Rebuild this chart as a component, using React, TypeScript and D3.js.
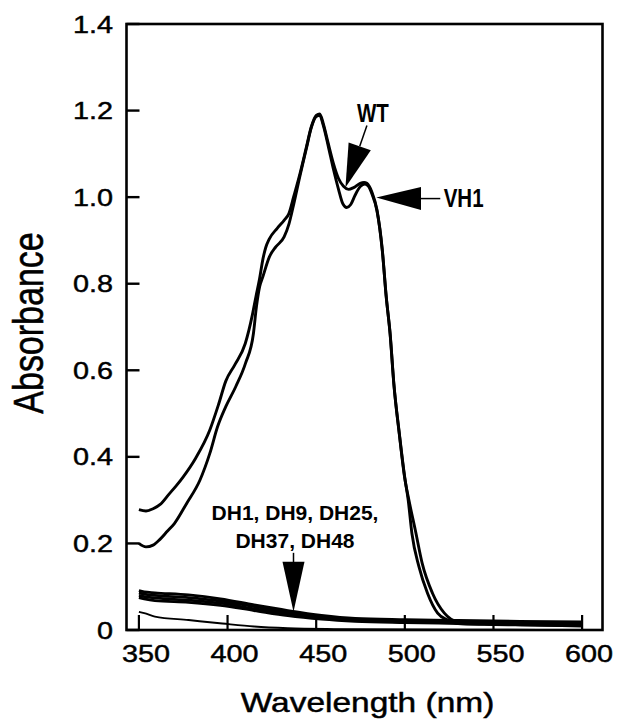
import React from "react";
import * as d3 from "d3";

// ---------- data ----------
const xTicks = [350, 400, 450, 500, 550, 600];
const yTicks = [0, 0.2, 0.4, 0.6, 0.8, 1.0, 1.2, 1.4];
const yTickLabels = ["0", "0.2", "0.4", "0.6", "0.8", "1.0", "1.2", "1.4"];

const wtWavelength = [350, 354, 358, 362, 367, 371, 375, 382, 390, 395, 399, 404, 410, 414, 416, 418, 420, 421.5, 423.5, 428, 432, 434.6, 437.3, 440.9, 444.5, 447.2, 450, 452, 454, 456.8, 459.7, 462.6, 465.4, 468.3, 471.1, 474.8, 477, 478.6, 481.4, 484.3, 487.3, 489.5, 491.7, 493.8, 496.9, 499.9, 501.9, 504, 508, 512.8, 518.5, 524.2, 530, 545, 565, 585, 600];
const wtAbsorbance = [0.278, 0.275, 0.28, 0.29, 0.314, 0.333, 0.354, 0.397, 0.462, 0.522, 0.575, 0.612, 0.662, 0.728, 0.77, 0.81, 0.858, 0.883, 0.903, 0.928, 0.947, 0.962, 1.001, 1.055, 1.116, 1.162, 1.189, 1.192, 1.17, 1.124, 1.078, 1.043, 1.025, 1.018, 1.022, 1.032, 1.034, 1.032, 1.012, 0.97, 0.878, 0.77, 0.685, 0.57, 0.454, 0.354, 0.3, 0.223, 0.146, 0.085, 0.039, 0.023, 0.015, 0.013, 0.012, 0.011, 0.01];

const vh1Wavelength = [350, 354, 358, 362, 366, 370, 377, 384.4, 390, 394.4, 399, 404.6, 410.1, 414.6, 416.3, 418.1, 419.9, 423.6, 427.2, 431.9, 434.7, 437.4, 441, 444.5, 447.2, 450, 452, 454, 456.8, 459.7, 462.6, 465, 467.2, 469.5, 472, 475, 477.5, 479.5, 481.4, 484.3, 487.3, 489.5, 491.7, 493.8, 496.9, 499.9, 502.3, 505.9, 509.8, 515.6, 522.3, 530, 545, 565, 585, 600];
const vh1Absorbance = [0.2, 0.192, 0.196, 0.21, 0.228, 0.246, 0.293, 0.346, 0.408, 0.47, 0.516, 0.562, 0.616, 0.685, 0.747, 0.793, 0.816, 0.862, 0.885, 0.908, 0.939, 0.985, 1.052, 1.113, 1.16, 1.186, 1.189, 1.166, 1.118, 1.065, 1.018, 0.985, 0.976, 0.983, 1.005, 1.025, 1.03, 1.025, 1.008, 0.968, 0.876, 0.77, 0.683, 0.568, 0.452, 0.352, 0.3, 0.231, 0.154, 0.085, 0.039, 0.019, 0.015, 0.013, 0.012, 0.011];

const dhWavelength = [350, 353, 359, 378, 396, 415, 434, 453, 472, 500, 530, 565, 600];
const dh1Absorbance = [0.091, 0.088, 0.086, 0.081, 0.072, 0.058, 0.045, 0.034, 0.027, 0.024, 0.022, 0.02, 0.019];
const dh9Absorbance = [0.086, 0.083, 0.08, 0.075, 0.067, 0.054, 0.041, 0.031, 0.024, 0.021, 0.019, 0.017, 0.015];
const dh25Absorbance = [0.08, 0.077, 0.074, 0.069, 0.062, 0.049, 0.037, 0.028, 0.022, 0.019, 0.017, 0.014, 0.012];
const dh37Absorbance = [0.075, 0.072, 0.068, 0.064, 0.057, 0.045, 0.033, 0.025, 0.02, 0.017, 0.015, 0.012, 0.009];
const dh48Wavelength = [350, 353, 359, 378, 397, 415, 434, 460, 500, 550, 600];
const dh48Absorbance = [0.042, 0.039, 0.031, 0.023, 0.015, 0.008, 0.004, 0.002, 0.001, 0.0005, 0];

const wtArrowTip = [466.5, 1.022];
const vh1ArrowTip = [483.9, 0.999];
const dhArrowTip = [437.2, 0.042];

// ---------- layout ----------
const W = 627;
const H = 728;
const LEFT = 126.5;
const RIGHT = 602.5;
const TOP = 24;
const BOTTOM = 630;
const FONT = "'Liberation Sans', Arial, Helvetica, sans-serif";

export default function App() {
  const x = d3.scaleLinear().domain([343, 611.5]).range([LEFT, RIGHT]);
  const y = d3.scaleLinear().domain([0, 1.4]).range([BOTTOM, TOP]);

  const line = d3
    .line<[number, number]>()
    .x((d) => x(d[0]))
    .y((d) => y(d[1]))
    .curve(d3.curveMonotoneX);

  const zip = (a: number[], b: number[]) => a.map((v, i) => [v, b[i]] as [number, number]);

  const mainSeries = [
    { name: "WT", d: zip(wtWavelength, wtAbsorbance) },
    { name: "VH1", d: zip(vh1Wavelength, vh1Absorbance) },
  ];
  const dhSeries = [
    { name: "DH1", d: zip(dhWavelength, dh1Absorbance), w: 2.8 },
    { name: "DH9", d: zip(dhWavelength, dh9Absorbance), w: 2.8 },
    { name: "DH25", d: zip(dhWavelength, dh25Absorbance), w: 2.8 },
    { name: "DH37", d: zip(dhWavelength, dh37Absorbance), w: 2.8 },
    { name: "DH48", d: zip(dh48Wavelength, dh48Absorbance), w: 1.9 },
  ];

  // WT arrow geometry
  const wt = { x: x(wtArrowTip[0]), y: y(wtArrowTip[1]) };
  const u = { x: 0.327, y: -0.945 };
  const p = { x: 0.945, y: 0.327 };
  const wtLen = 43.7;
  const wtHalf = 11.75;
  const wtB = { x: wt.x + u.x * wtLen, y: wt.y + u.y * wtLen };
  const wtTri = `M${wt.x},${wt.y}L${wtB.x - p.x * wtHalf},${wtB.y - p.y * wtHalf}L${wtB.x + p.x * wtHalf},${wtB.y + p.y * wtHalf}Z`;

  // VH1 arrow
  const vh = { x: x(vh1ArrowTip[0]), y: y(vh1ArrowTip[1]) };
  const vhTri = `M${vh.x},${vh.y}L${vh.x + 44.7},${vh.y - 10.5}L${vh.x + 44.7},${vh.y + 12.5}Z`;

  // DH arrow
  const dh = { x: x(dhArrowTip[0]), y: y(dhArrowTip[1]) };
  const dhTri = `M${dh.x},${dh.y}L${dh.x - 11},${dh.y - 50}L${dh.x + 11},${dh.y - 50}Z`;

  const heavy = { stroke: "#000", strokeWidth: 0.45 };

  return (
    <svg
      width={W}
      height={H}
      style={{ position: "fixed", left: 0, top: 0, background: "#fff" }}
      fontFamily={FONT}
    >
      <rect x={0} y={0} width={W} height={H} fill="#fff" />

      {/* frame */}
      <rect x={LEFT} y={TOP} width={RIGHT - LEFT} height={BOTTOM - TOP} fill="none" stroke="#000" strokeWidth={2.6} />

      {/* y ticks */}
      {yTicks.map((t, i) => (
        <g key={"y" + t}>
          <line x1={LEFT} x2={LEFT + 13} y1={y(t)} y2={y(t)} stroke="#000" strokeWidth={2.4} />
          <text
            transform={`translate(113,${y(t) + 8.5}) scale(1.2,1)`}
            textAnchor="end"
            fontSize={24}
            fill="#000"
            {...heavy}
          >
            {yTickLabels[i]}
          </text>
        </g>
      ))}

      {/* x ticks */}
      {xTicks.map((t) => (
        <g key={"x" + t}>
          <line x1={x(t)} x2={x(t)} y1={BOTTOM} y2={BOTTOM - 15} stroke="#000" strokeWidth={2.2} />
          <text
            transform={`translate(${x(t) + 7},662) scale(1.2,1)`}
            textAnchor="middle"
            fontSize={24}
            fill="#000"
            {...heavy}
          >
            {t}
          </text>
        </g>
      ))}

      {/* axis titles */}
      <text
        transform="translate(43,323) rotate(-90) scale(1,1.25)"
        textAnchor="middle"
        fontSize={34}
        fill="#000"
        {...heavy}
      >
        Absorbance
      </text>
      <text
        transform="translate(367.5,712) scale(1.24,1)"
        textAnchor="middle"
        fontSize={27}
        fill="#000"
        {...heavy}
      >
        Wavelength (nm)
      </text>

      {/* DH curves */}
      {dhSeries.map((s) => (
        <path key={s.name} d={line(s.d) || ""} fill="none" stroke="#000" strokeWidth={s.w} strokeLinejoin="round" />
      ))}

      {/* WT / VH1 curves */}
      {mainSeries.map((s) => (
        <path key={s.name} d={line(s.d) || ""} fill="none" stroke="#000" strokeWidth={2.9} strokeLinejoin="round" />
      ))}

      {/* WT annotation */}
      <line x1={wtB.x} y1={wtB.y} x2={wtB.x + u.x * 22} y2={wtB.y + u.y * 22} stroke="#000" strokeWidth={1.5} />
      <path d={wtTri} fill="#000" />
      <text
        transform={`translate(${wt.x + 27.5},${wt.y - 65.8}) scale(0.82,1)`}
        textAnchor="middle"
        fontSize={25}
        fontWeight="bold"
        fill="#000"
      >
        WT
      </text>

      {/* VH1 annotation */}
      <path d={vhTri} fill="#000" />
      <line x1={vh.x + 44.7} y1={vh.y + 1} x2={vh.x + 64} y2={vh.y + 1} stroke="#000" strokeWidth={1.5} />
      <text
        transform={`translate(${vh.x + 67.4},${vh.y + 9.7}) scale(0.82,1)`}
        textAnchor="start"
        fontSize={25}
        fontWeight="bold"
        fill="#000"
      >
        VH1
      </text>

      {/* DH annotation */}
      <line x1={dh.x} y1={dh.y - 59} x2={dh.x} y2={dh.y - 49} stroke="#000" strokeWidth={1.5} />
      <path d={dhTri} fill="#000" />
      <text x={dh.x + 1.5} y={dh.y - 91.7} textAnchor="middle" fontSize={21} fontWeight="bold" fill="#000">
        DH1, DH9, DH25,
      </text>
      <text x={dh.x + 1.5} y={dh.y - 63.7} textAnchor="middle" fontSize={21} fontWeight="bold" fill="#000">
        DH37, DH48
      </text>
    </svg>
  );
}
